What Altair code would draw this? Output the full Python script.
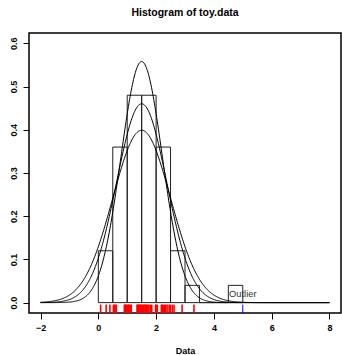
import altair as alt
import pandas as pd

# Histogram (density scale), breaks every 0.5
bin_starts = [0.0, 0.5, 1.0, 1.5, 2.0, 2.5, 3.0, 3.5, 4.0, 4.5]
bin_ends = [0.5, 1.0, 1.5, 2.0, 2.5, 3.0, 3.5, 4.0, 4.5, 5.0]
densities = [0.12, 0.36, 0.48, 0.48, 0.36, 0.12, 0.04, 0.0, 0.0, 0.04]

# Rug values (red) and the outlier (blue)
rug_values = [0.08, 0.27, 0.40,
              0.52, 0.55, 0.58, 0.62, 0.90, 0.93, 0.95, 0.97, 1.00,
              1.03, 1.05, 1.08, 1.11, 1.14, 1.34, 1.36, 1.39, 1.41, 1.44, 1.47, 1.49,
              1.53, 1.56, 1.58, 1.62, 1.64, 1.67, 1.71, 1.75, 1.80, 1.85, 1.98, 2.00,
              2.04, 2.18, 2.21, 2.25, 2.30, 2.33, 2.38, 2.45, 2.49,
              2.56, 2.62, 2.90,
              3.31]
outlier_values = [5.0]

# Normal density curves overlaid (mean, sd)
curve_means = [1.5, 1.5, 1.5]
curve_sds = [0.715, 0.867, 1.0]
curve_range = [-2, 8]

x_ticks = [-2, 0, 2, 4, 6, 8]
y_ticks = [0.0, 0.1, 0.2, 0.3, 0.4, 0.5, 0.6]
title_text = ["Histogram of toy.data"]

FONT = "Liberation Sans"
W, H = 312, 280

xs = alt.Scale(domain=[-2.4, 8.4], nice=False, zero=False)
ys = alt.Scale(domain=[-0.024, 0.624], nice=False, zero=False)

bars_df = pd.DataFrame({"x0": bin_starts, "x1": bin_ends, "d": densities})
rug_df = pd.DataFrame({"x": rug_values})
out_df = pd.DataFrame({"x": outlier_values})
label_df = pd.DataFrame({"x": [5.0], "y": [0.02], "t": ["Outlier"]})
title_df = pd.DataFrame({"t": title_text})

xaxis = alt.Axis(values=x_ticks, title="Data", format="d", labelPadding=4,
                 titlePadding=14)
yaxis = alt.Axis(values=y_ticks, title="", format=".1f", labelAngle=-90,
                 labelAlign="center", labelBaseline="bottom", labelPadding=4.5)

bars = alt.Chart(bars_df).mark_rect(
    fill="white", fillOpacity=0, stroke="#222222", strokeWidth=1
).encode(
    x=alt.X("x0:Q", scale=xs, axis=xaxis),
    x2="x1:Q",
    y=alt.Y("d:Q", scale=ys, axis=yaxis),
    y2=alt.datum(0),
)

calc = {}
for i, (m, s) in enumerate(zip(curve_means, curve_sds)):
    calc[f"c{i}"] = (f"exp(-pow(datum.x - {m}, 2) / (2 * {s} * {s})) / "
                     f"({s} * sqrt(2 * PI))")

curves = alt.Chart(alt.sequence(curve_range[0], curve_range[1] + 0.001, 0.02, as_="x")).transform_calculate(
    **calc
).transform_fold(
    list(calc.keys()), as_=["curve", "dens"]
).mark_line(color="black", strokeWidth=1).encode(
    x=alt.X("x:Q", scale=xs),
    y=alt.Y("dens:Q", scale=ys),
    detail="curve:N",
)

rug = alt.Chart(rug_df).mark_rule(color="#ff0000", strokeWidth=1.6).encode(
    x=alt.X("x:Q", scale=xs), y=alt.value(H), y2=alt.value(H - 8.4)
)
rug_out = alt.Chart(out_df).mark_rule(color="#0000ff", strokeWidth=1).encode(
    x=alt.X("x:Q", scale=xs), y=alt.value(H), y2=alt.value(H - 8.4)
)

label = alt.Chart(label_df).mark_text(
    font=FONT, fontSize=9.3, color="#333333", align="center", baseline="middle"
).encode(x=alt.X("x:Q", scale=xs), y=alt.Y("y:Q", scale=ys), text="t:N")

title = alt.Chart(title_df).mark_text(
    font=FONT, fontSize=10.5, fontWeight="bold", color="black",
    align="center", baseline="middle"
).encode(x=alt.value(W / 2), y=alt.value(12.5 - 33), text="t:N")

chart = alt.layer(bars, curves, rug, rug_out, label, title).properties(
    width=W, height=H,
    padding={"left": 29, "top": 33, "right": 1, "bottom": 42},
    autosize=alt.AutoSizeParams(type="none"),
).configure_view(
    stroke="black", strokeWidth=1.5
).configure_axis(
    domain=False, grid=False, tickColor="black", tickSize=6, tickWidth=1,
    labelFont=FONT, labelFontSize=9, labelFontWeight="bold", labelColor="black",
    titleFont=FONT, titleFontSize=9, titleFontWeight="bold", titleColor="black",
)

chart.save("out.html", embed_options={"renderer": "svg", "actions": False})
